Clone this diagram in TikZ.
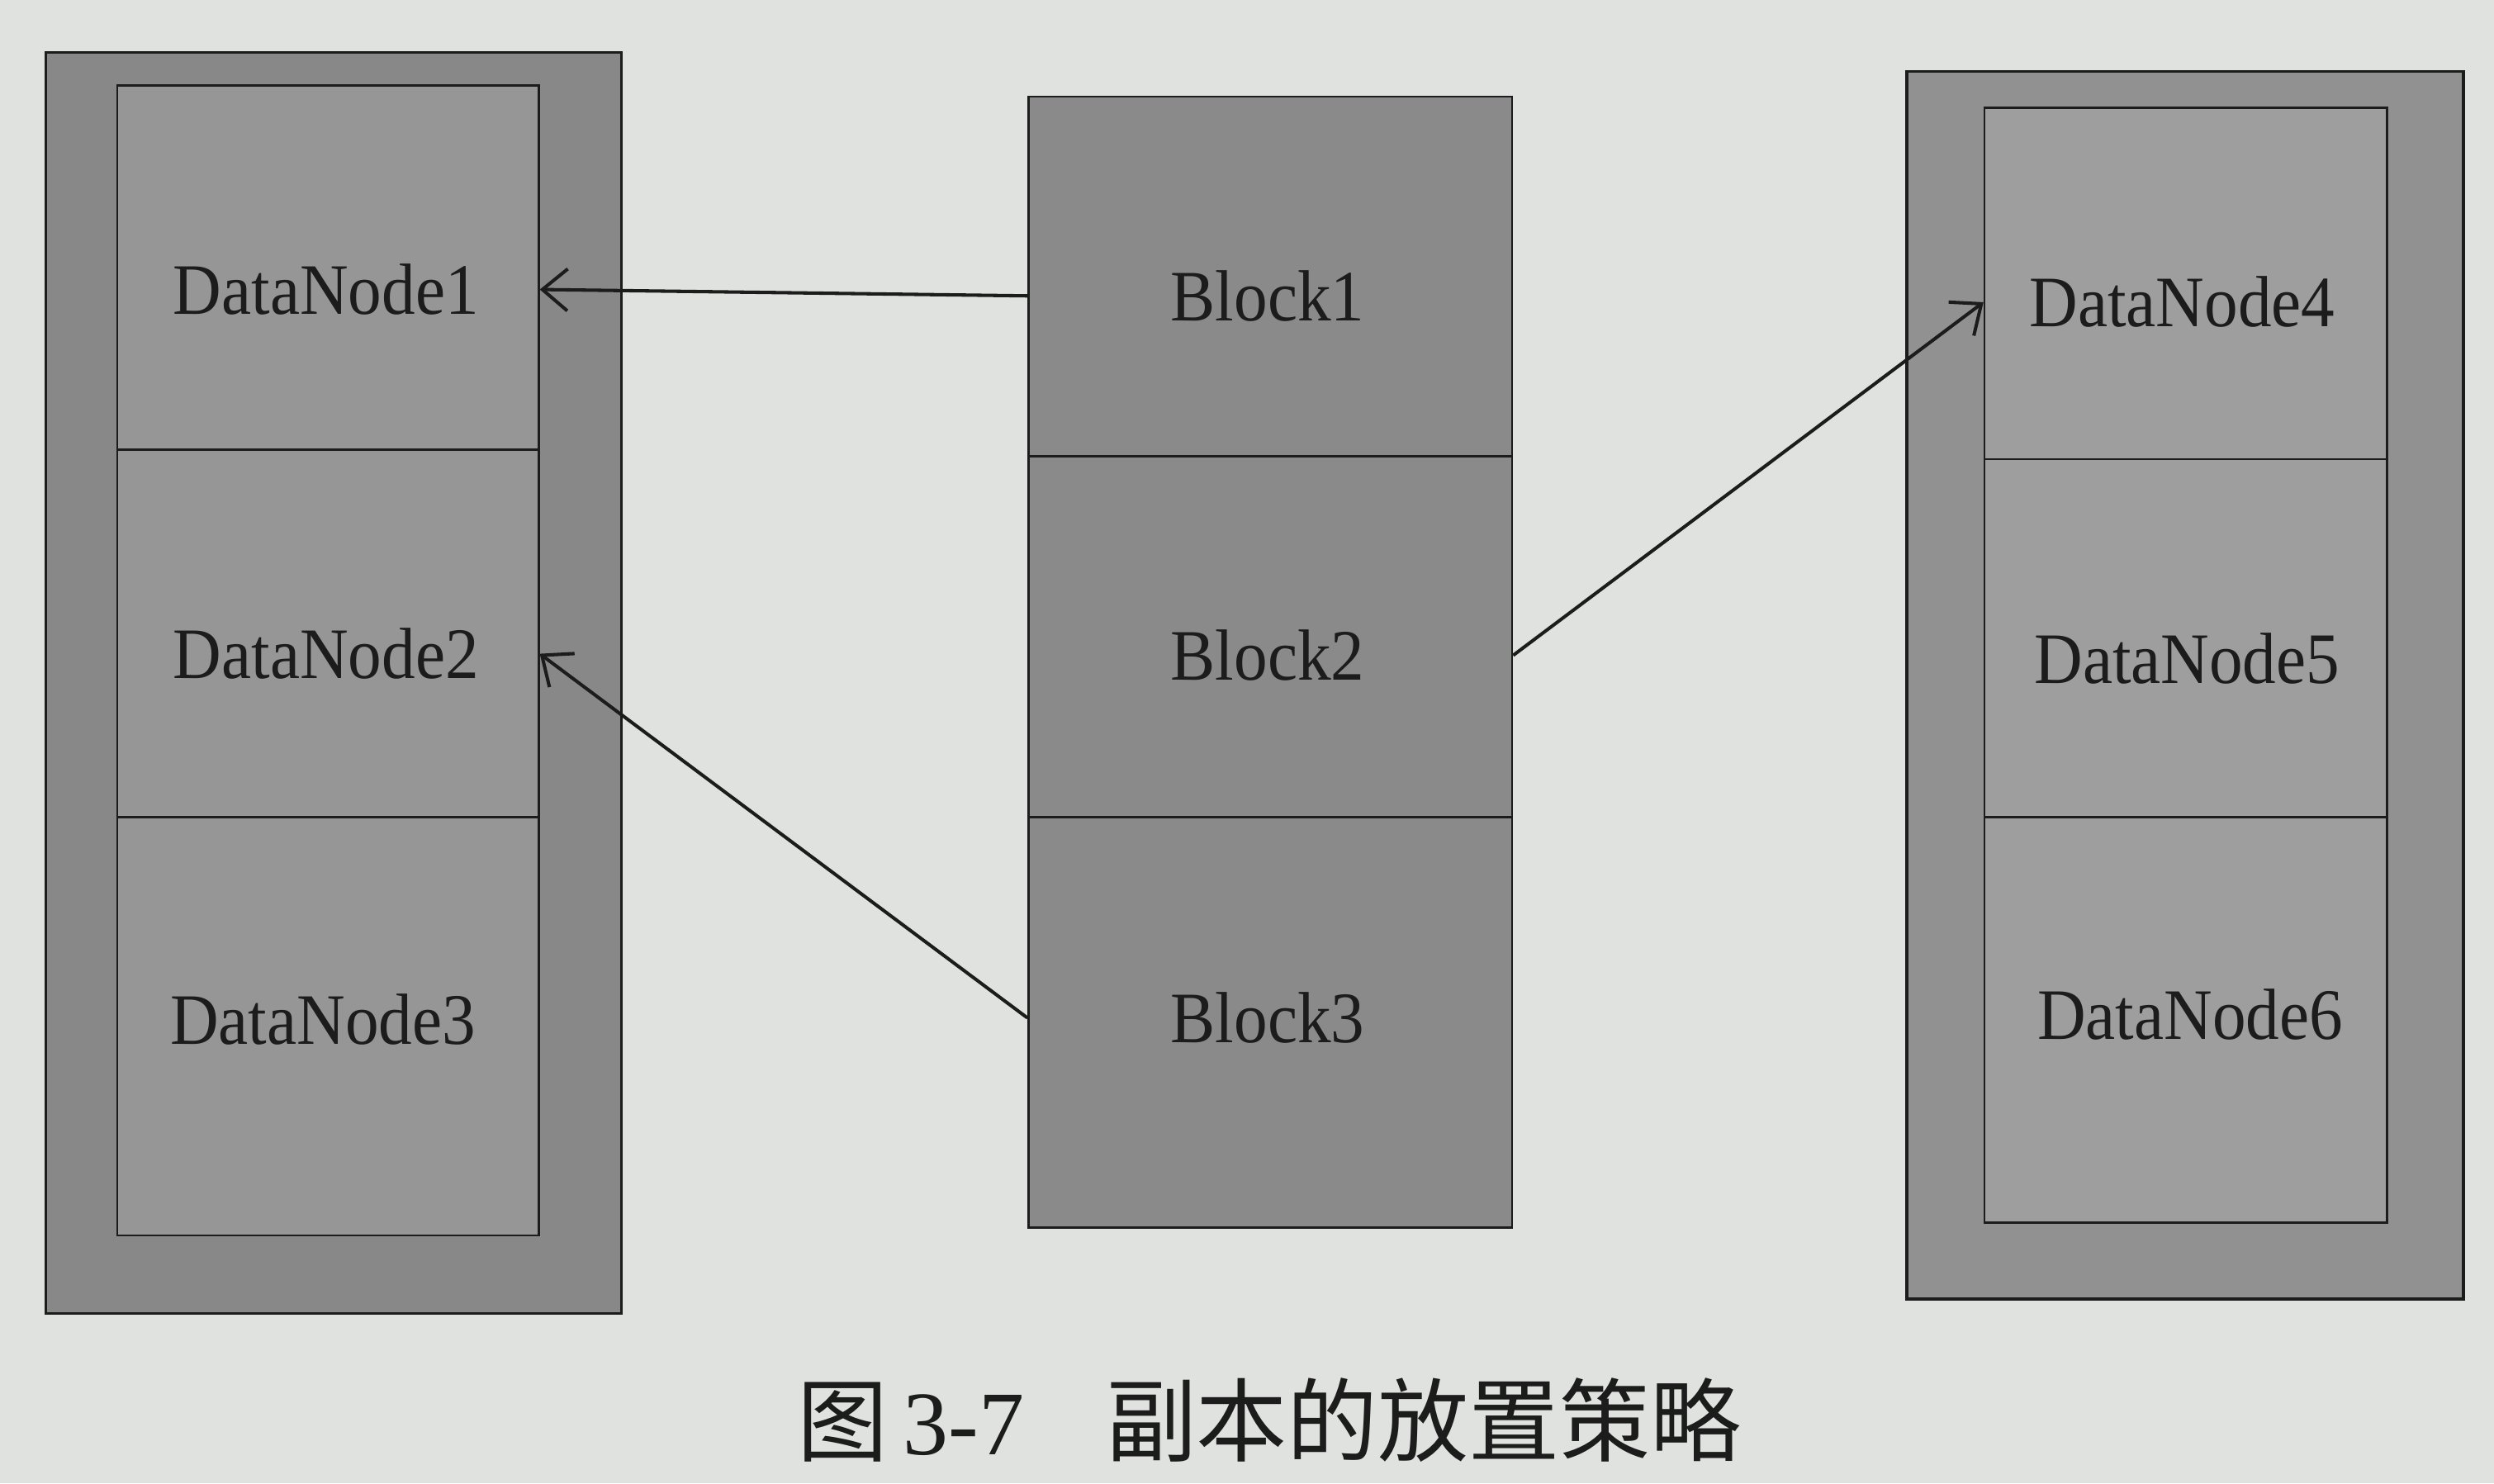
\documentclass[tikz,border=0pt]{standalone}
\usepackage{fontspec}
\setmainfont{Liberation Serif}
\newfontfamily\cjk{Noto Sans CJK SC}
\usetikzlibrary{arrows.meta}
\definecolor{paperc}{RGB}{224,226,223}
\definecolor{outerL}{RGB}{136,136,136}
\definecolor{innerL}{RGB}{150,150,150}
\definecolor{midc}{RGB}{138,138,138}
\definecolor{outerR}{RGB}{145,145,145}
\definecolor{innerR}{RGB}{158,158,158}
\definecolor{inkc}{RGB}{28,28,28}
\begin{document}
\begin{tikzpicture}[x=0.02cm,y=-0.02cm,
  outerbox/.style={draw=inkc, line width=1pt, inner sep=0pt, anchor=north west},
  cell/.style={draw=inkc, line width=0.8pt, inner sep=0pt, anchor=north west},
  lbl/.style={font=\fontsize{24}{28}\selectfont, text=inkc, inner sep=0pt, yscale=1.08},
  arr/.style={draw=inkc, line width=1.2pt, -{Straight Barb[length=9pt,width=15pt,line width=1.2pt]}}]
% background / bounding box
\fill[paperc] (0,0) rectangle (1568,932.5);
\useasboundingbox (0,0) rectangle (1568,932.5);

% outer server boxes
\node[outerbox, fill=outerL, minimum width=7.24cm, minimum height=15.86cm] (outL) at (28,32) {};
\node[outerbox, fill=outerR, minimum width=7.0cm, minimum height=15.44cm] (outR) at (1198,44) {};

% left DataNode cells
\node[cell, fill=innerL, minimum width=5.30cm, minimum height=4.58cm] (c1) at (73,53) {};
\node[cell, fill=innerL, minimum width=5.30cm, minimum height=4.62cm] (c2) at (73,282) {};
\node[cell, fill=innerL, minimum width=5.30cm, minimum height=5.26cm] (c3) at (73,513) {};

% middle Block cells
\node[cell, fill=midc, minimum width=6.08cm, minimum height=4.52cm] (b1) at (646,60) {};
\node[cell, fill=midc, minimum width=6.08cm, minimum height=4.54cm] (b2) at (646,286) {};
\node[cell, fill=midc, minimum width=6.08cm, minimum height=5.16cm] (b3) at (646,513) {};

% right DataNode cells
\node[cell, fill=innerR, minimum width=5.06cm, minimum height=4.42cm] (r1) at (1247,67) {};
\node[cell, fill=innerR, minimum width=5.06cm, minimum height=4.50cm] (r2) at (1247,288) {};
\node[cell, fill=innerR, minimum width=5.06cm, minimum height=5.10cm] (r3) at (1247,513) {};

% labels
\node[lbl] (ldn1) at (205,182) {DataNode1};
\node[lbl] (ldn2) at (205,411) {DataNode2};
\node[lbl] (ldn3) at (203,641) {DataNode3};
\node[lbl] (lb1) at (797,186) {Block1};
\node[lbl] (lb2) at (797,412) {Block2};
\node[lbl] (lb3) at (797,640) {Block3};
\node[lbl] (ldn4) at (1372,190) {DataNode4};
\node[lbl] (ldn5) at (1375,414) {DataNode5};
\node[lbl] (ldn6) at (1377,638) {DataNode6};

% connectors
\draw[arr] (b1.west |- lb1) -- (c1.east |- ldn1);
\draw[arr] (b3.west |- lb3) -- (c2.east |- ldn2);
\draw[arr] (b2.east |- lb2) -- (r1.west |- ldn4);

% caption
\node[font=\fontsize{32.5}{38}\selectfont, text=inkc, inner sep=0pt] (cap) at (798,893)
  {{\cjk 图}\,3-7\hspace{0.9em}{\cjk 副本的放置策略}};
\end{tikzpicture}
\end{document}
